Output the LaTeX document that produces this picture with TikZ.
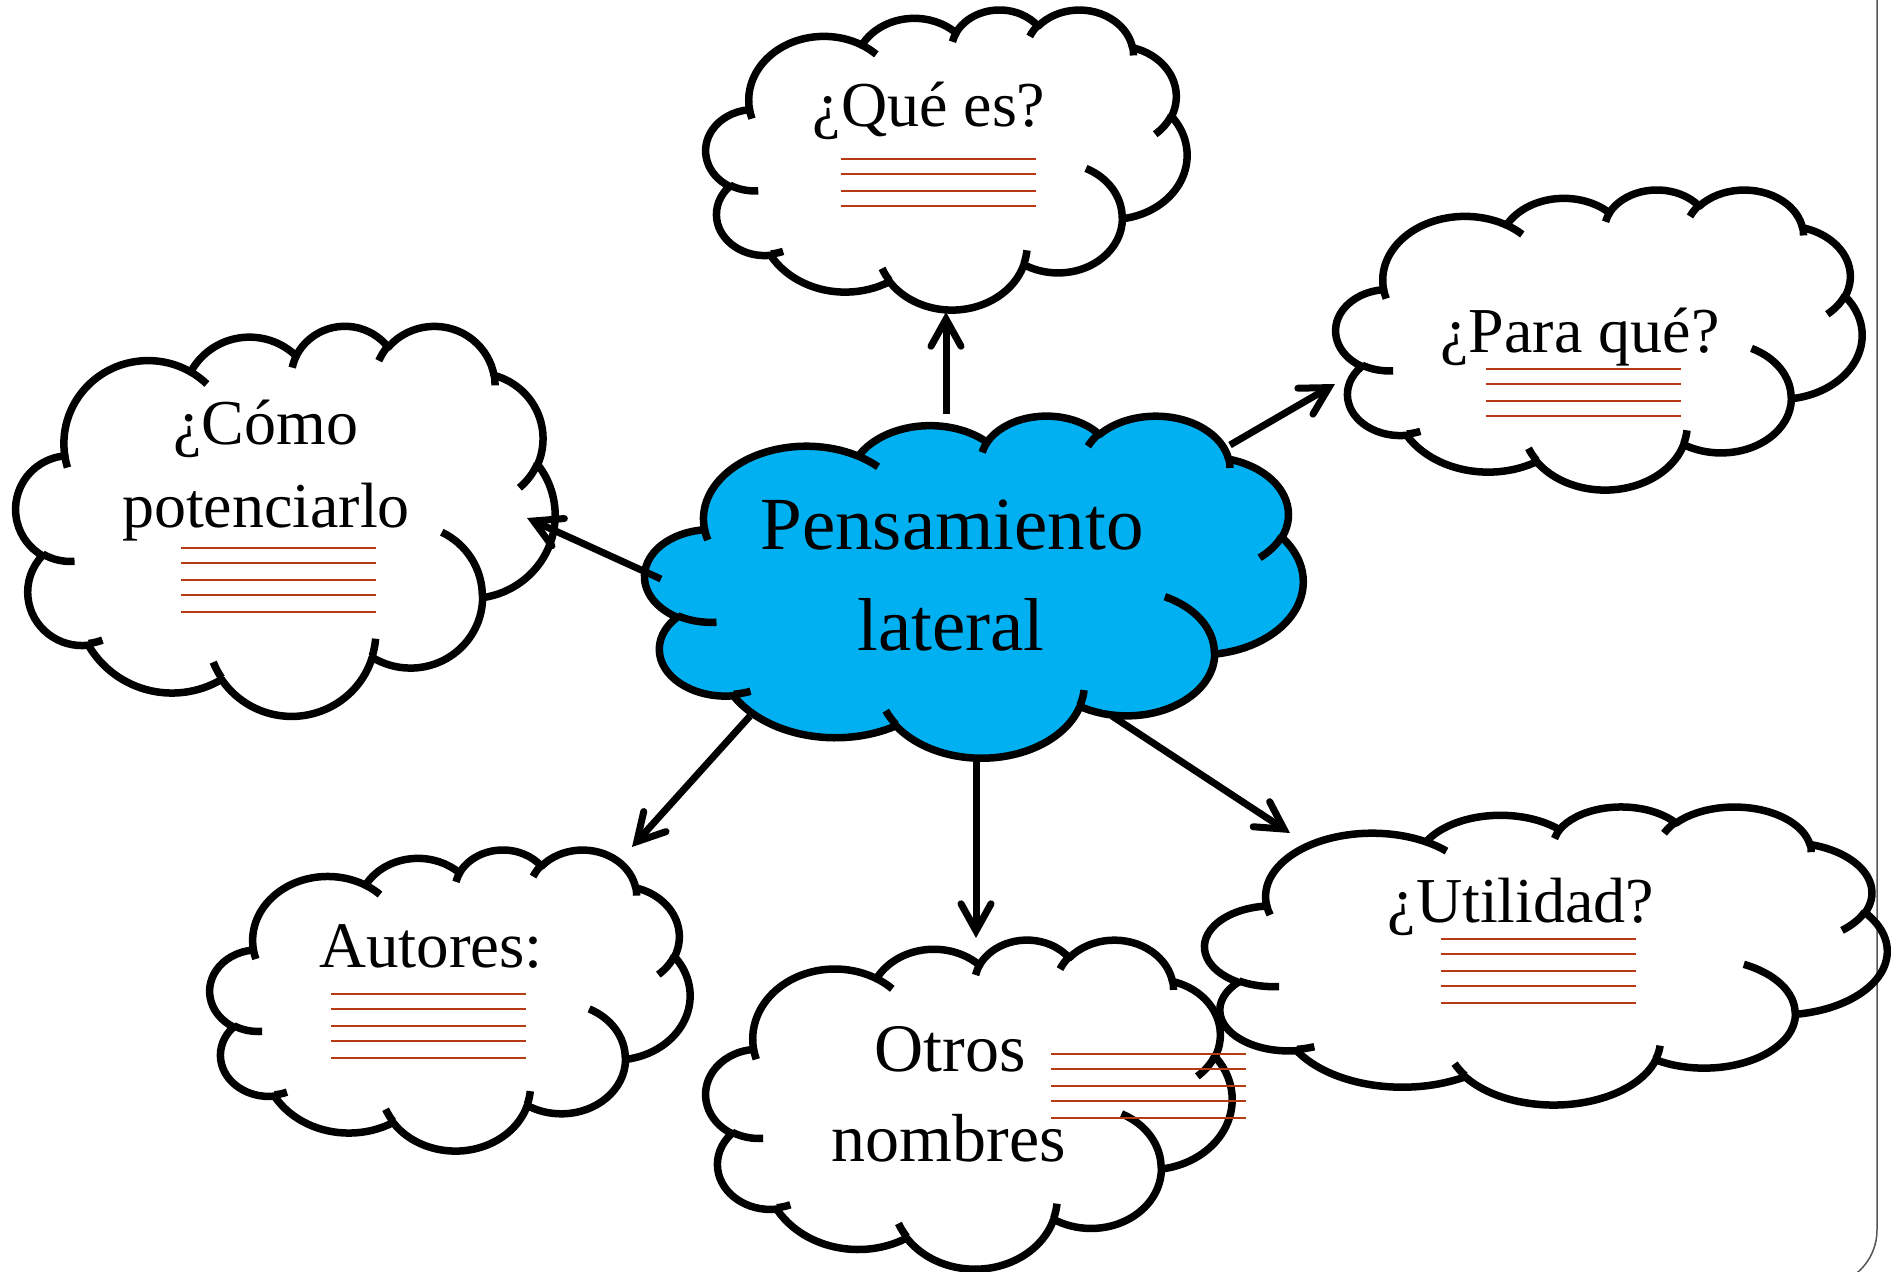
\documentclass[tikz,border=0pt]{standalone}
\usepackage{fontspec}
\setmainfont{Liberation Serif}
\usetikzlibrary{arrows.meta}
\definecolor{cloudblue}{RGB}{0,176,240}
\definecolor{ruleline}{RGB}{184,58,18}
\definecolor{framegray}{RGB}{85,85,85}
\tikzset{
  carc/.style n args={4}{insert path={arc[start angle={-atan2(#1/100*sin(#3),#2/100*cos(#3))},
     end angle={-atan2(#1/100*sin(#3),#2/100*cos(#3))-mod(atan2(#1/100*sin(#3+#4),#2/100*cos(#3+#4))-atan2(#1/100*sin(#3),#2/100*cos(#3))+720,360)},
     x radius={#1*\ckx*1pt}, y radius={#2*\cky*1pt}]}},
  cloudline/.style={line width=7.5pt, line join=round, line cap=butt},
  plaincloud/.style={cloudline, draw=black},
  bluecloud/.style={cloudline, draw=black, fill=cloudblue},
  conn/.style={line width=7pt, -{Straight Barb[length=27pt,width=30pt,line cap=round,line join=miter]}},
  rules/.style={draw=ruleline, line width=2.3pt},
  cloudtext/.style={inner sep=0pt, anchor=base, font=\fontsize{64}{64}\selectfont},
}
% path units are the OOXML cloud units divided by 10 (box = 4320 x 4320)
\newcommand\drawcloud[5]{%
  \pgfmathsetmacro\cox{#2}%
  \pgfmathsetmacro\coy{#3}%
  \pgfmathsetmacro\ckx{(#4-#2)/4320}%
  \pgfmathsetmacro\cky{(#5-#3)/4320}%
  \path[#1] ({\cox+390.0*\ckx},{\coy+1437.0*\cky})
    [carc={675.3}{919.0}{-190.4875}{123.7805}]
    [carc={533.3}{726.7}{-144.1024}{89.9452}]
    [carc={436.5}{594.5}{-145.8079}{99.7230}]
    [carc={485.7}{659.5}{-130.9861}{117.2417}]
    [carc={533.3}{727.3}{-78.7089}{109.0269}]
    [carc={677.5}{922.0}{-46.2673}{130.2690}]
    [carc={578.5}{786.7}{0.6250}{114.0333}]
    [carc={675.2}{921.5}{22.4516}{115.1726}]
    [carc={772.0}{1054.3}{66.2426}{75.7110}]
    [carc={436.0}{591.8}{-274.9421}{146.7356}]
    [carc={434.5}{594.5}{-246.8285}{152.5189}] -- cycle;
  \draw[cloudline]
    ({\cox+469.3*\ckx},{\coy+2617.7*\cky}) [carc={434.5}{594.5}{86.7420}{26.4295}]
    ({\cox+692.8*\ckx},{\coy+3489.9*\cky}) [carc={436.0}{591.8}{73.6105}{11.4475}]
    ({\cox+1647.8*\ckx},{\coy+3909.0*\cky}) [carc={675.2}{921.5}{137.6242}{14.0811}]
    ({\cox+2882.7*\ckx},{\coy+3475.1*\cky}) [carc={675.2}{921.5}{6.4533}{15.9984}]
    ({\cox+3412.9*\ckx},{\coy+2295.4*\cky}) [carc={578.5}{786.7}{-70.2924}{70.9174}]
    ({\cox+4179.8*\ckx},{\coy+1535.4*\cky}) [carc={533.3}{727.3}{30.3180}{27.7515}]
    ({\cox+3832.4*\ckx},{\coy+542.6*\cky}) [carc={485.7}{659.5}{-13.7443}{14.8589}]
    ({\cox+2907.8*\ckx},{\coy+395.2*\cky}) [carc={485.7}{659.5}{-149.1815}{18.1954}]
    ({\cox+2214.1*\ckx},{\coy+472.0*\cky}) [carc={436.5}{594.5}{-163.4943}{17.6864}]
    ({\cox+1400.0*\ckx},{\coy+519.2*\cky}) [carc={675.3}{919.0}{-66.7070}{12.3194}]
    ({\cox+412.7*\ckx},{\coy+1578.9*\cky}) [carc={675.3}{919.0}{157.6544}{11.8582}];
}
\begin{document}
\begin{tikzpicture}[x=1pt,y=-1pt]
\useasboundingbox (0,0) rectangle (1891,1272);
\fill[white] (0,0) rectangle (1891,1272);
% frame
\draw[framegray, line width=1.5pt] (1877,-10) -- (1877,1230) arc[start angle=0, end angle=-90, radius=56pt] -- (1700,1286);
% clouds
\drawcloud{plaincloud}{706}{9}{1187}{309}
\drawcloud{plaincloud}{1336}{189}{1862}{489}
\drawcloud{plaincloud}{16}{325}{555}{715}
\drawcloud{plaincloud}{210}{849}{690}{1150}
\drawcloud{plaincloud}{706}{939}{1232}{1268}
\drawcloud{plaincloud}{1205}{806}{1887}{1104}
\drawcloud{bluecloud}{645}{415}{1303}{757}
% connectors
\coordinate (qS) at (946,414);  \coordinate (qE) at (946,312);
\coordinate (pS) at (1230,445); \coordinate (pE) at (1335,384);
\coordinate (cS) at (661,579);  \coordinate (cE) at (527,518);
\coordinate (aS) at (750,716);  \coordinate (aE) at (632,847);
\coordinate (oS) at (976,762);  \coordinate (oE) at (976,938);
\coordinate (uS) at (1112,716); \coordinate (uE) at (1290,833);
\draw[conn] (qS) -- (qE);
\draw[conn] (pS) -- (pE);
\draw[conn] (cS) -- (cE);
\draw[conn] (aS) -- (aE);
\draw[conn] (oS) -- (oE);
\draw[conn] (uS) -- (uE);
% ruled lines
\foreach \d in {0,15,32,47} {
  \draw[rules] (841,{158.7+\d}) -- (1036,{158.7+\d});
  \draw[rules] (1486,{368.7+\d}) -- (1681,{368.7+\d});
}
\foreach \d in {0,15,32,47,64} {
  \draw[rules] (181,{548.3+\d}) -- (376,{548.3+\d});
  \draw[rules] (331,{994.3+\d}) -- (526,{994.3+\d});
  \draw[rules] (1051,{1054.3+\d}) -- (1246,{1054.3+\d});
  \draw[rules] (1441,{938.7+\d}) -- (1636,{938.7+\d});
}
% texts
\node[cloudtext] (que) at (929,126) {¿Qué es?};
\node[cloudtext] (para) at (1580,352) {¿Para qué?};
\node[cloudtext] (como1) at (266,444) {¿Cómo};
\node[cloudtext] (como2) at (266,527) {potenciarlo};
\node[cloudtext, font=\fontsize{75}{75}\selectfont] (pens1) at (952,549) {Pensamiento};
\node[cloudtext, font=\fontsize{75}{75}\selectfont] (pens2) at (951,650) {lateral};
\node[cloudtext, font=\fontsize{65}{65}\selectfont] (aut) at (431,967) {Autores:};
\node[cloudtext, font=\fontsize{68}{68}\selectfont] (otros1) at (950,1071) {Otros};
\node[cloudtext, font=\fontsize{68}{68}\selectfont] (otros2) at (949,1161) {nombres};
\node[cloudtext] (util) at (1521,922) {¿Utilidad?};
\end{tikzpicture}
\end{document}
